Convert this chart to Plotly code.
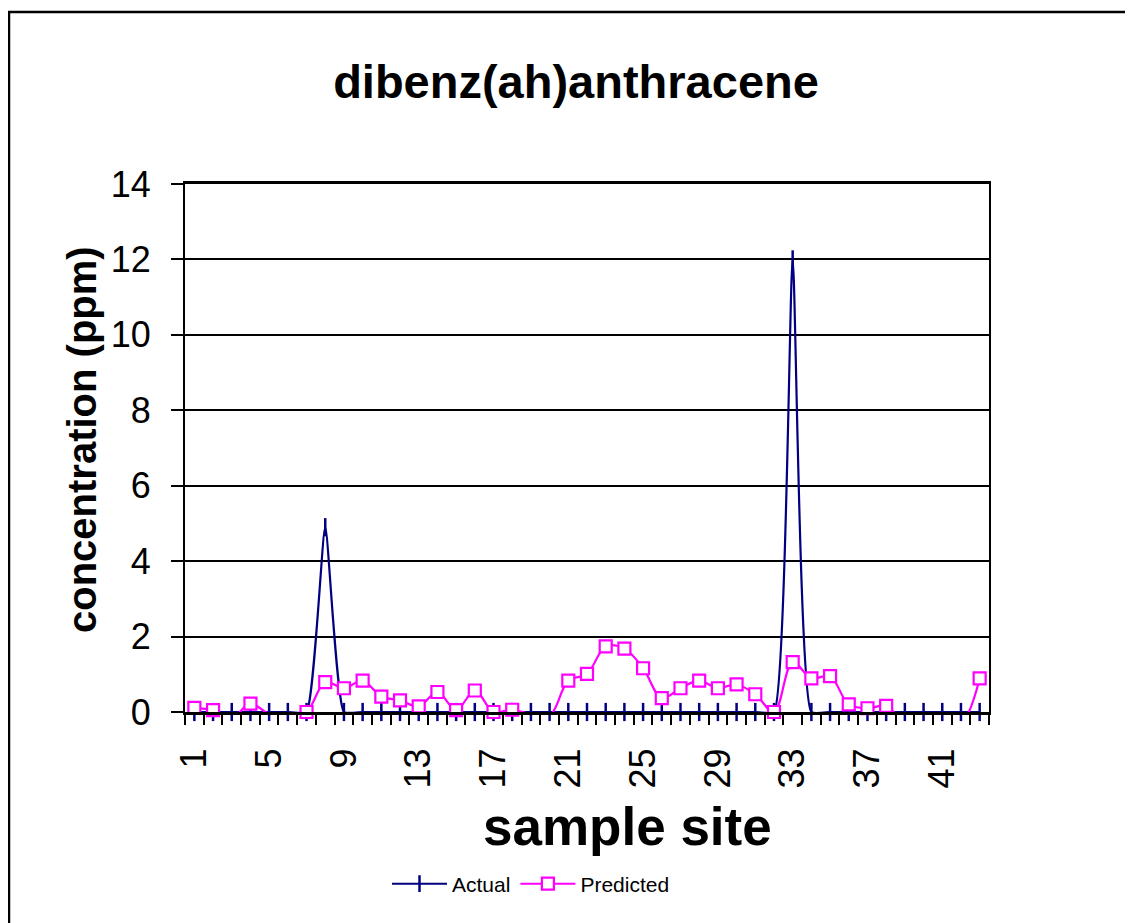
import plotly.graph_objects as go

sites = list(range(1, 44))
actual = [0, 0, 0, 0, 0, 0, 0, 4.9, 0, 0,
          0, 0, 0, 0, 0, 0, 0, 0, 0, 0,
          0, 0, 0, 0, 0, 0, 0, 0, 0, 0,
          0, 0, 12.0, 0, 0, 0, 0, 0, 0, 0,
          0, 0, 0]
predicted = [0.11, 0.05, -0.15, 0.22, -0.05, -0.12, 0.0, 0.79, 0.63, 0.83,
             0.41, 0.31, 0.15, 0.53, 0.05, 0.57, 0.0, 0.06, -0.06, -0.1,
             0.83, 1.01, 1.74, 1.68, 1.16, 0.37, 0.63, 0.83, 0.63, 0.73,
             0.47, 0.0, 1.32, 0.89, 0.95, 0.2, 0.1, 0.16, -0.25, -0.06,
             -0.25, -0.3, 0.89]
tick_labels = [str(v) for v in range(1, 42, 4)]

FONT = "Liberation Sans, Arial, sans-serif"
NAVY = "#000080"
PINK = "#FF00FF"

OFF = 8  # page body margin
W, H = 1125, 915
L, T = 185 - OFF, 184 - OFF
R = W - (989 - OFF)
B = H - (712 - OFF)
PW, PH = W - L - R, H - T - B


def px_x(s):
    return (s - OFF - L) / PW


def px_y(s):
    return (H - B - (s - OFF)) / PH


fig = go.Figure()

# Actual
fig.add_trace(go.Scatter(x=sites, y=actual, mode="lines",
                         line=dict(color=NAVY, width=2.2, shape="spline", smoothing=0.45),
                         showlegend=False, hoverinfo="skip"))
fig.add_trace(go.Scatter(x=sites, y=actual, mode="markers", cliponaxis=False,
                         marker=dict(symbol="line-ns", size=13, line=dict(color=NAVY, width=2.5)),
                         showlegend=False))
fig.add_trace(go.Scatter(x=[None], y=[None], mode="lines+markers", name="Actual",
                         line=dict(color=NAVY, width=2),
                         marker=dict(symbol="line-ns", size=12, line=dict(color=NAVY, width=2.5))))

# Predicted
pred_vis = [v if v >= 0 else None for v in predicted]
fig.add_trace(go.Scatter(x=sites, y=predicted, mode="lines",
                         line=dict(color=PINK, width=2.2, shape="spline", smoothing=1),
                         showlegend=False, hoverinfo="skip"))
fig.add_trace(go.Scatter(x=sites, y=pred_vis, mode="markers", cliponaxis=False,
                         marker=dict(symbol="square", size=12, color="white", line=dict(color=PINK, width=2.2)),
                         showlegend=False))
fig.add_trace(go.Scatter(x=[None], y=[None], mode="lines+markers", name="Predicted",
                         line=dict(color=PINK, width=2),
                         marker=dict(symbol="square", size=12, color="white", line=dict(color=PINK, width=2.2))))

fig.update_layout(
    width=W, height=H,
    margin=dict(l=L, r=R, t=T, b=B, pad=0),
    paper_bgcolor="white", plot_bgcolor="white",
    font=dict(family=FONT, color="black"),
    title=dict(text="<b>dibenz(ah)anthracene</b>", font=dict(size=47, family=FONT, color="black"),
               x=(576 - OFF) / W, xanchor="center", xref="container",
               y=1 - (82 - OFF) / H, yanchor="middle", yref="container"),
    legend=dict(orientation="h", x=px_x(531), xanchor="center", y=px_y(884), yanchor="middle",
                font=dict(size=21, family=FONT), itemwidth=55, bgcolor="rgba(0,0,0,0)"),
    xaxis=dict(range=[0.5, 43.5], tickmode="array", tickvals=list(range(1, 42, 4)), ticktext=tick_labels,
               tickangle=-90, ticks="", showgrid=False, zeroline=False,
               showline=True, linecolor="black", linewidth=3, mirror=True,
               tickfont=dict(size=36, family=FONT), ticklabelstandoff=19,
               minor=dict(tickvals=[i + 0.5 for i in range(0, 44)], ticks="outside", ticklen=10,
                          tickwidth=2, tickcolor="black", showgrid=False)),
    yaxis=dict(range=[0, 14], dtick=2, tick0=0, showgrid=True, gridcolor="black", gridwidth=1.5,
               zeroline=False, showline=True, linecolor="black", linewidth=2, mirror=True,
               ticks="outside", ticklen=12, tickwidth=2, tickcolor="black",
               tickfont=dict(size=36, family=FONT), ticklabelstandoff=13),
    annotations=[
        dict(text="<b>sample site</b>", x=px_x(627), y=px_y(826), xref="paper", yref="paper",
             showarrow=False, xanchor="center", yanchor="middle", font=dict(size=53, family=FONT)),
        dict(text="<b>concentration (ppm)</b>", x=px_x(82), y=px_y(440), xref="paper", yref="paper",
             showarrow=False, xanchor="center", yanchor="middle", textangle=-90, font=dict(size=40, family=FONT)),
    ],
    shapes=[dict(type="rect", xref="paper", yref="paper", x0=px_x(9), x1=px_x(1300), y0=px_y(1100), y1=px_y(12),
                 line=dict(color="black", width=2.5), fillcolor="rgba(0,0,0,0)", layer="below")],
)

fig.write_html("out.html")
